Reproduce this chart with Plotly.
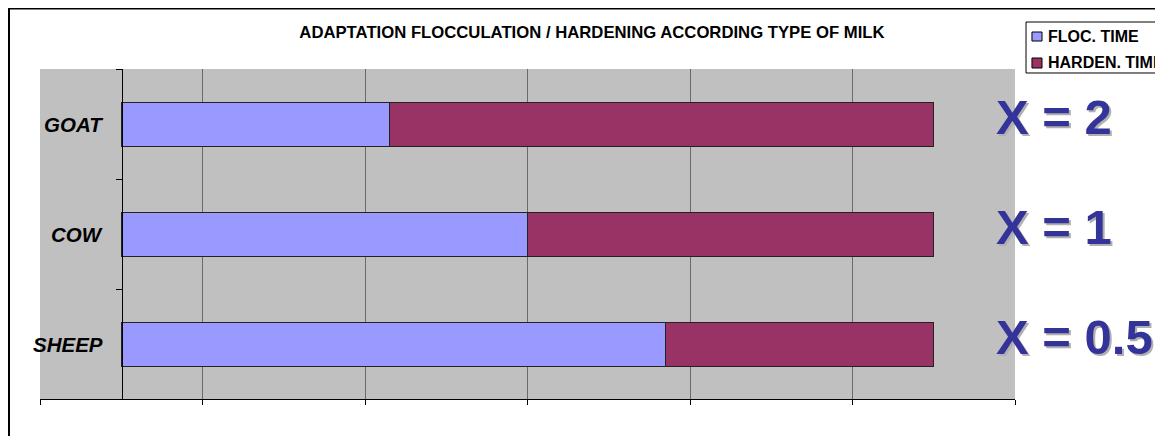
import plotly.graph_objects as go

# milk types, bottom to top as drawn
milk = ['SHEEP', 'COW', 'GOAT']
floc_time = [67, 50, 33]
harden_time = [33, 50, 67]
ratio_labels = ['X = 0.5', 'X = 1', 'X = 2']
series_names = ['FLOC. TIME', 'HARDEN. TIME']
series_colors = ['#9999ff', '#993366']

font_family = 'Arial, Liberation Sans, sans-serif'

fig = go.Figure()
for name, vals, col in zip(series_names, [floc_time, harden_time], series_colors):
    fig.add_trace(go.Bar(y=milk, x=vals, orientation='h', name=name, showlegend=False,
                         marker=dict(color=col, line=dict(color='#222222', width=1))))

# category labels inside the grey area, left of the axis
for m in milk:
    fig.add_annotation(x=0, y=m, xref='x', yref='y', text='<b><i>%s</i></b>' % m,
                       showarrow=False, xanchor='right', xshift=-16,
                       font=dict(family=font_family, size=20.5, color='black'))

# ratio labels on the right, with a soft shadow
for m, lab in zip(milk, ratio_labels):
    fig.add_annotation(x=107.4, y=m, xref='x', yref='y', text='<b>%s</b>' % lab,
                       showarrow=False, xanchor='left', xshift=2, yshift=5,
                       font=dict(family=font_family, size=49, color='#b0b0b0'))
    fig.add_annotation(x=107.4, y=m, xref='x', yref='y', text='<b>%s</b>' % lab,
                       showarrow=False, xanchor='left', yshift=7,
                       font=dict(family=font_family, size=49, color='#333399'))

# legend drawn by hand (box, small squares, bold names), like the Excel one
shapes = [dict(type='rect', xref='paper', yref='paper', x0=1.0113, x1=1.3,
               y0=0.9879, y1=1.1424, line=dict(color='black', width=1),
               fillcolor='white')]
sq_y = [(1.0848, 1.1121), (1.0030, 1.0333)]
txt_y = [1.0985, 1.0182]
for name, col, (y0, y1), ty in zip(series_names, series_colors, sq_y, txt_y):
    shapes.append(dict(type='rect', xref='paper', yref='paper', x0=1.0174, x1=1.0277,
                       y0=y0, y1=y1, line=dict(color='black', width=1), fillcolor=col))
    fig.add_annotation(x=1.0318, y=ty, xref='paper', yref='paper', text='<b>%s</b>' % name,
                       showarrow=False, xanchor='left', yanchor='middle',
                       font=dict(family=font_family, size=16, color='black'))

# outer chart border
shapes.append(dict(type='rect', xref='paper', yref='paper', x0=-0.0318, x1=1.3,
                   y0=-0.3, y1=1.1833, line=dict(color='black', width=2),
                   fillcolor='rgba(0,0,0,0)', layer='below'))

# the page has an 8px body margin, so the figure is 8px smaller to avoid scrollbars
fig.update_layout(
    barmode='stack',
    bargap=0.6,
    width=1155, height=428,
    margin=dict(l=32, r=148, t=61, b=37, autoexpand=False),
    paper_bgcolor='white',
    plot_bgcolor='#c0c0c0',
    font=dict(family=font_family, color='black'),
    title=dict(text='<b>ADAPTATION FLOCCULATION / HARDENING ACCORDING TYPE OF MILK</b>',
               x=0.5056, xanchor='center', y=0.944, yanchor='middle',
               font=dict(size=16.7, color='black')),
    xaxis=dict(range=[-10, 110], tick0=-10, dtick=20, showticklabels=False,
               showgrid=True, gridcolor='#6a6a6a', gridwidth=1, zeroline=False,
               showline=True, linecolor='black', ticks='outside', ticklen=5,
               tickcolor='black'),
    yaxis=dict(categoryorder='array', categoryarray=milk, showticklabels=False,
               showgrid=False, showline=True, linecolor='black', ticks='outside',
               tickson='boundaries', ticklen=6, tickcolor='black',
               anchor='free', position=82 / 975),
    shapes=shapes,
)

fig.write_html('out.html')
